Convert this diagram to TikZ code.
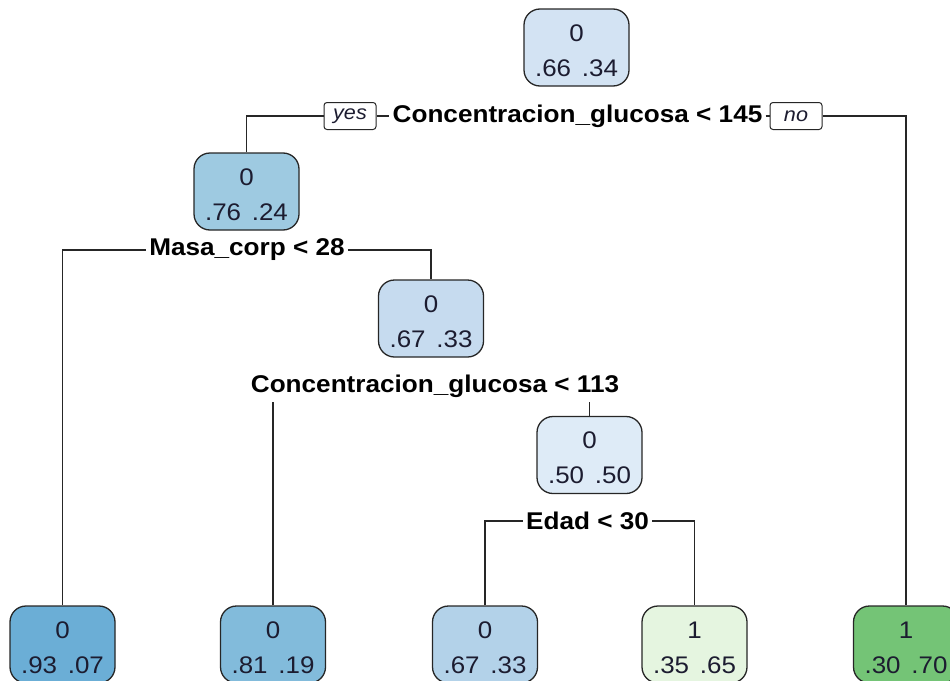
\documentclass[tikz,border=0pt]{standalone}
\usepackage{fontspec}
\setmainfont{Liberation Sans}[FakeStretch=1.08]
\definecolor{inkc}{RGB}{28,28,48}
\definecolor{cRoot}{HTML}{D3E3F3}
\definecolor{cN2}{HTML}{9ECAE1}
\definecolor{cN3}{HTML}{C6DBEF}
\definecolor{cN4}{HTML}{DEEBF7}
\definecolor{cL1}{HTML}{6BAED6}
\definecolor{cL2}{HTML}{82BBDB}
\definecolor{cL3}{HTML}{B3D2E9}
\definecolor{cL4}{HTML}{E5F5E0}
\definecolor{cL5}{HTML}{74C476}
% strut lifting the first line so the two text lines sit slightly low in the box
\newcommand\toprule{\rule{0pt}{23pt}}
\begin{document}
\begin{tikzpicture}[x=1pt,y=-1pt,
  tnode/.style={draw=black!85, line width=1.3pt, rounded corners=16pt,
    minimum width=105pt, minimum height=77pt, inner sep=0pt, align=center,
    text=inkc, font=\fontsize{24}{35}\selectfont},
  split/.style={inner xsep=3pt, inner ysep=4pt, text=black,
    font=\bfseries\fontsize{24.2}{28}\selectfont},
  yn/.style={draw=black!85, line width=1pt, fill=white, rounded corners=3pt,
    minimum width=52pt, minimum height=27pt, inner sep=0pt, text=inkc,
    font=\itshape\fontsize{20}{22}\selectfont},
  edge/.style={line width=1.4pt, draw=black!85}]
\useasboundingbox (0,0) rectangle (950,680);
\clip (0,0) rectangle (950,680);

% tree nodes
\node[tnode, fill=cRoot] (root) at (576.5,47.5) {\toprule 0\\.66\hspace{0.45em}.34};
\node[tnode, fill=cN2]   (n2)   at (246.5,191.5) {\toprule 0\\.76\hspace{0.45em}.24};
\node[tnode, fill=cN3]   (n3)   at (431,318.5) {\toprule 0\\.67\hspace{0.45em}.33};
\node[tnode, fill=cN4]   (n4)   at (589.5,455) {\toprule 0\\.50\hspace{0.45em}.50};
\node[tnode, fill=cL1]   (l1)   at (62.5,644.5) {\toprule 0\\.93\hspace{0.45em}.07};
\node[tnode, fill=cL2]   (l2)   at (273,644.5) {\toprule 0\\.81\hspace{0.45em}.19};
\node[tnode, fill=cL3]   (l3)   at (485,644.5) {\toprule 0\\.67\hspace{0.45em}.33};
\node[tnode, fill=cL4]   (l4)   at (694.5,644.5) {\toprule 1\\.35\hspace{0.45em}.65};
\node[tnode, fill=cL5]   (l5)   at (906,644.5) {\toprule 1\\.30\hspace{0.45em}.70};

% split labels
\node[split] (s1) at (577.5,116) {Concentracion\_glucosa < 145};
\node[split] (s2) at (247,250) {Masa\_corp < 28};
\node[split] (s3) at (435,386) {Concentracion\_glucosa < 113};
\node[split] (s4) at (587.5,521) {Edad < 30};

\node[yn] (yes) at (350,116) {yes};
\node[yn] (no)  at (796,116) {no};

% connectors
\draw[edge] (n2.north) |- (yes.west);
\draw[edge] (yes.east) -- (s1.west);
\draw[edge] (s1.east) -- (no.west);
\draw[edge] (no.east) -| (l5.north);

\draw[edge] (l1.north) |- (s2.west);
\draw[edge] (s2.east) -| (n3.north);

\draw[edge] (l2.north) -- (l2.north |- s3.south);
\draw[edge] (n4.north) -- (n4.north |- s3.south);

\draw[edge] (l3.north) |- (s4.west);
\draw[edge] (s4.east) -| (l4.north);
\end{tikzpicture}
\end{document}
